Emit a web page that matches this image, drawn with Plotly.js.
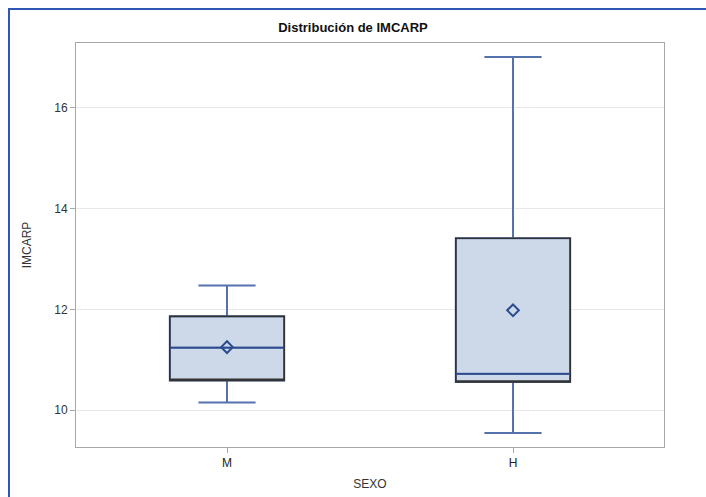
<!DOCTYPE html>
<html>
<head>
<meta charset="utf-8">
<script src="https://cdn.plot.ly/plotly-3.0.1.min.js"></script>
<style>
html,body{margin:0;padding:0;background:#fff;}
#wrap{position:relative;width:706px;height:497px;overflow:hidden;}
#frame{position:absolute;left:8px;top:8px;width:720px;height:520px;border-top:2px solid #2f55b5;border-left:2px solid #2f55b5;pointer-events:none;z-index:5;}
#chart{position:absolute;left:0;top:0;width:706px;height:497px;}
</style>
</head>
<body>
<div id="wrap"><div id="chart"></div><div id="frame"></div></div>
<script>
const categories = ['M', 'H'];
const lowerWhisker = [10.15, 9.55];
const q1Values = [10.59, 10.56];
const medianValues = [11.24, 10.72];
const q3Values = [11.86, 13.41];
const upperWhisker = [12.47, 17.0];
const meanValues = [11.25, 11.98];
const yTicks = [10, 12, 14, 16];

const boxWidth = 0.4;

const mainBox = {
  type: 'box', x: categories,
  q1: q1Values, median: medianValues, q3: q3Values,
  lowerfence: lowerWhisker, upperfence: upperWhisker,
  width: boxWidth, whiskerwidth: 0.5,
  fillcolor: '#cdd8e8', line: {color: '#5572ac', width: 2},
  boxpoints: false, hoverinfo: 'skip', showlegend: false
};
const edgeBox = {
  type: 'box', x: categories,
  q1: q1Values, median: q1Values, q3: q3Values,
  lowerfence: q1Values, upperfence: q3Values,
  width: boxWidth, whiskerwidth: 0,
  fillcolor: 'rgba(0,0,0,0)', line: {color: '#333333', width: 1.6},
  boxpoints: false, hoverinfo: 'skip', showlegend: false
};
const medianBox = {
  type: 'box', x: categories,
  q1: medianValues, median: medianValues, q3: medianValues,
  lowerfence: medianValues, upperfence: medianValues,
  width: boxWidth, whiskerwidth: 0,
  fillcolor: 'rgba(0,0,0,0)', line: {color: '#2c4b8e', width: 1.6},
  boxpoints: false, hoverinfo: 'skip', showlegend: false
};
const meanTrace = {
  type: 'scatter', mode: 'markers', x: categories, y: meanValues,
  marker: {symbol: 'diamond-open', size: 9, color: '#2c4b8e', line: {width: 2, color: '#2c4b8e'}},
  hoverinfo: 'skip', showlegend: false
};

const layout = {
  width: 706, height: 497,
  margin: {l: 76, r: 42, t: 43, b: 50},
  paper_bgcolor: '#ffffff', plot_bgcolor: '#ffffff',
  boxmode: 'overlay',
  font: {family: 'Liberation Sans, Arial, sans-serif', size: 12, color: '#333'},
  title: {text: '<b>Distribución de IMCARP</b>', x: 0.5, xanchor: 'center', y: 0.945, yanchor: 'middle',
          font: {size: 13, color: '#111', family: 'Liberation Sans, Arial, sans-serif'}},
  xaxis: {
    type: 'category', categoryarray: categories, range: [-0.528, 1.528],
    showline: true, linecolor: '#a8a8a8', linewidth: 1, mirror: true,
    ticks: 'outside', ticklen: 5, tickcolor: '#a8a8a8', showgrid: false, zeroline: false,
    tickfont: {size: 12, color: '#222'},
    title: {text: 'SEXO', standoff: 10, font: {size: 12, color: '#333'}}
  },
  yaxis: {
    range: [9.27, 17.28], tickvals: yTicks, ticktext: yTicks.map(String),
    showline: true, linecolor: '#a8a8a8', linewidth: 1, mirror: true,
    ticks: 'outside', ticklen: 5, tickcolor: '#a8a8a8',
    showgrid: true, gridcolor: '#e8e8e8', gridwidth: 1, zeroline: false,
    tickfont: {size: 12, color: '#333'},
    title: {text: 'IMCARP', standoff: 20, font: {size: 12, color: '#333'}}
  }
};

Plotly.newPlot('chart', [mainBox, edgeBox, medianBox, meanTrace], layout, {displayModeBar: false, staticPlot: true});
</script>
</body>
</html>
